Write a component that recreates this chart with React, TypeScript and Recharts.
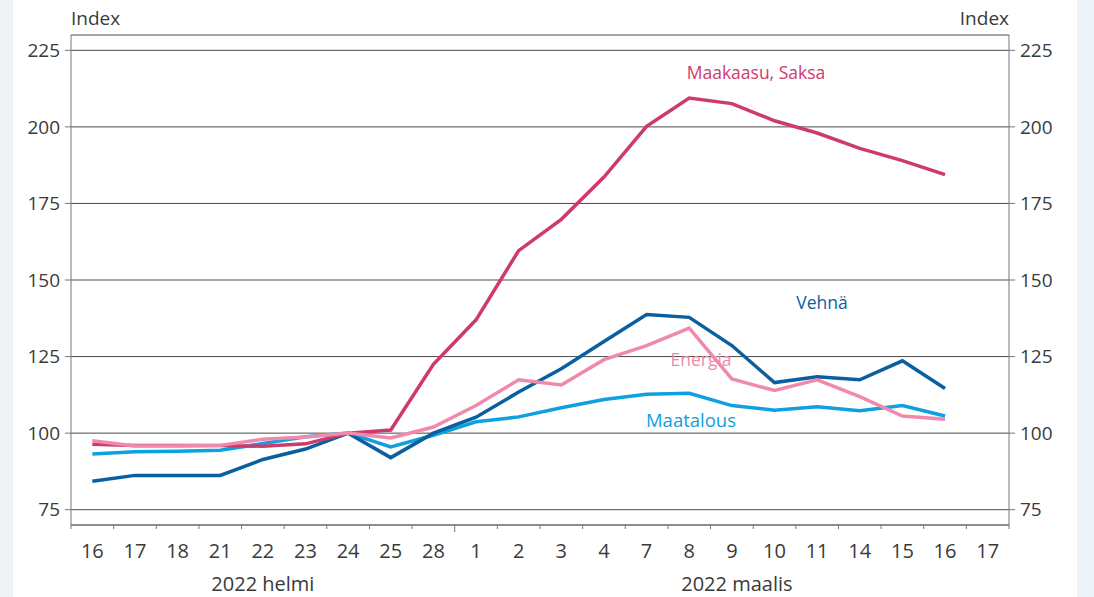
import React from 'react';
import { LineChart, Line, XAxis, YAxis, CartesianGrid, Customized } from 'recharts';

// categories: trading days, Feb -> Mar 2022
const days = ['16', '17', '18', '21', '22', '23', '24', '25', '28', '1', '2', '3', '4', '7', '8', '9', '10', '11', '14', '15', '16', '17'];

const maakaasu = [96.4, 96, 96, 96, 95.7, 96.5, 100, 101, 122.5, 137, 159.6, 169.8, 183.6, 200.2, 209.4, 207.6, 202, 198, 193, 189, 184.4, null];
const vehna = [84.3, 86.2, 86.2, 86.2, 91.4, 94.8, 100, 92, 100, 105.2, 113.4, 121, 129.9, 138.7, 137.8, 128.6, 116.5, 118.4, 117.4, 123.6, 114.6, null];
const energia = [97.5, 95.8, 95.8, 96, 98, 98.7, 100, 98.4, 102, 109, 117.4, 115.7, 124, 128.6, 134.3, 117.7, 113.9, 117.4, 111.9, 105.6, 104.5, null];
const maatalous = [93.2, 93.9, 94.1, 94.4, 96.6, 98.8, 100, 95.5, 99.3, 103.7, 105.3, 108.3, 111, 112.7, 113, 109, 107.5, 108.6, 107.3, 109, 105.6, null];

const yTicks = [75, 100, 125, 150, 175, 200, 225];

const data = days.map((d, i) => ({
  key: `${i}-${d}`,
  day: d,
  maakaasu: maakaasu[i],
  vehna: vehna[i],
  energia: energia[i],
  maatalous: maatalous[i],
}));

const FONT = '"Open Sans", "DejaVu Sans", sans-serif';
const TXT = '#3a3a3a';
const AXIS = '#777';
const HALF = 938 / 22 / 2;

const DayTick = (props: any) => {
  const { x, y, index } = props;
  const day = days[index];
  return (
    <g>
      <line x1={x - HALF} x2={x - HALF} y1={y} y2={y + (index === 9 ? 7 : 4)} stroke={AXIS} strokeWidth={1} />
      {index === days.length - 1 && (
        <line x1={x + HALF} x2={x + HALF} y1={y} y2={y + 4} stroke={AXIS} strokeWidth={1} />
      )}
      <text x={x} y={y + 33} textAnchor="middle" fontFamily={FONT} fontSize={20} fill={TXT}>{day}</text>
      {index === 4 && (
        <text x={x} y={y + 66} textAnchor="middle" fontFamily={FONT} fontSize={20} fill={TXT}>2022 helmi</text>
      )}
      {index === 15 && (
        <text x={x + 5} y={y + 66} textAnchor="middle" fontFamily={FONT} fontSize={20} fill={TXT}>2022 maalis</text>
      )}
    </g>
  );
};

// series names drawn inside the plot, next to their lines
const Labels = () => (
  <g fontFamily={FONT}>
    <text x={58} y={25} fontSize={19} fill={TXT}>Index</text>
    <text x={996} y={25} fontSize={19} fill={TXT} textAnchor="end">Index</text>
    <text x={743} y={79} fontSize={17.5} fill="#cf3a6e" textAnchor="middle">Maakaasu, Saksa</text>
    <text x={809} y={309} fontSize={17.5} fill="#0a5fa0" textAnchor="middle">Vehnä</text>
    <text x={688} y={366} fontSize={17.5} fill="#f08aad" textAnchor="middle">Energia</text>
    <text x={678} y={427} fontSize={18.5} fill="#0fa0e0" textAnchor="middle">Maatalous</text>
  </g>
);

export default function App() {
  return (
    <div style={{ position: 'absolute', left: 0, top: 0, width: 1094, height: 597, background: '#eef3f8' }}>
      <div style={{ position: 'absolute', left: 13, top: 0, width: 1064, height: 597, background: '#fff' }}>
        <LineChart width={1064} height={597} data={data} margin={{ top: 35, right: 0, bottom: 0, left: 0 }}>
          <CartesianGrid yAxisId="left" horizontal vertical={false} stroke="#4a4a4a" strokeWidth={1} />
          <XAxis
            dataKey="key"
            interval={0}
            padding={{ left: HALF, right: HALF }}
            tickLine={false}
            tickSize={0}
            tickMargin={0}
            height={72}
            stroke={AXIS}
            tick={<DayTick />}
          />
          <YAxis
            yAxisId="left"
            domain={[70, 230]}
            ticks={yTicks}
            width={58}
            tickSize={6}
            tickMargin={5}
            stroke={AXIS}
            tick={{ fill: TXT, fontSize: 19, fontFamily: FONT }}
          />
          <YAxis
            yAxisId="right"
            orientation="right"
            domain={[70, 230]}
            ticks={yTicks}
            width={68}
            tickSize={6}
            tickMargin={5}
            stroke={AXIS}
            tick={{ fill: TXT, fontSize: 19, fontFamily: FONT }}
          />
          <Line yAxisId="right" dataKey="maatalous" stroke="#0fa0e0" strokeWidth={3.5} dot={false} isAnimationActive={false} />
          <Line yAxisId="left" dataKey="vehna" stroke="#0a5fa0" strokeWidth={3.5} dot={false} isAnimationActive={false} />
          <Line yAxisId="left" dataKey="maakaasu" stroke="#cf3a6e" strokeWidth={3.5} dot={false} isAnimationActive={false} />
          <Line yAxisId="left" dataKey="energia" stroke="#f08aad" strokeWidth={3.5} dot={false} isAnimationActive={false} />
          <Customized component={Labels} />
        </LineChart>
      </div>
    </div>
  );
}
